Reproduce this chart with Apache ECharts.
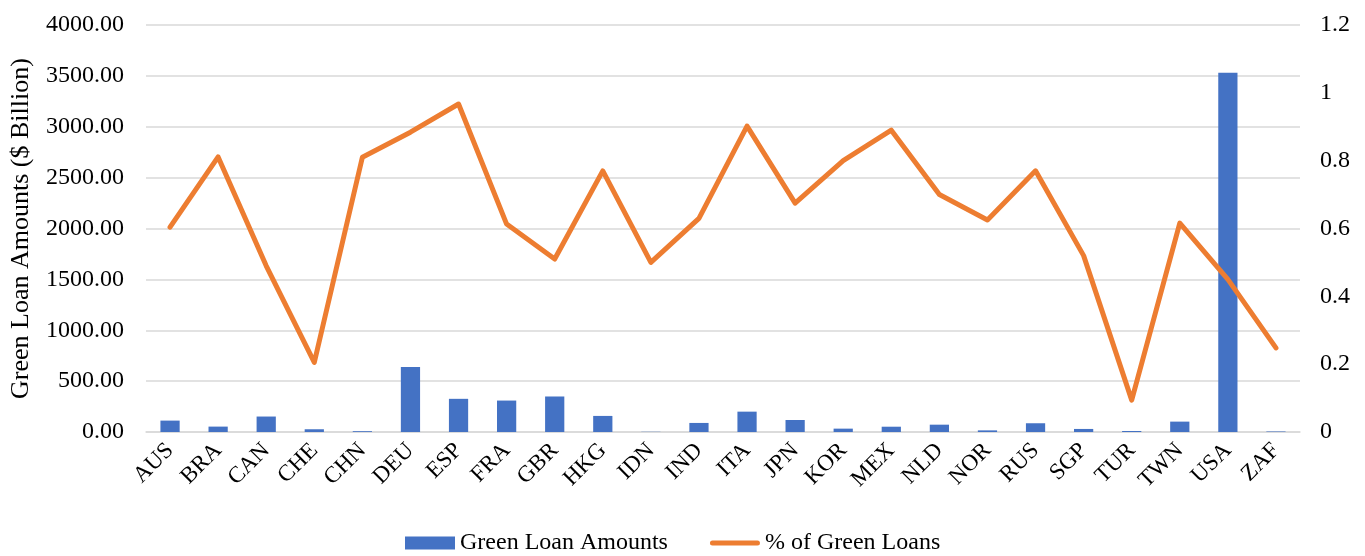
<!DOCTYPE html>
<html>
<head>
<meta charset="utf-8">
<script src="https://cdn.jsdelivr.net/npm/echarts@6/dist/echarts.min.js"></script>
<style>html,body{margin:0;padding:0;background:#fff}#c{width:1365px;height:556px}</style>
</head>
<body>
<div id="c"></div>
<script>
const categories = ['AUS','BRA','CAN','CHE','CHN','DEU','ESP','FRA','GBR','HKG','IDN','IND','ITA','JPN','KOR','MEX','NLD','NOR','RUS','SGP','TUR','TWN','USA','ZAF'];
const loanAmounts = [112, 53, 152, 27, 8, 639, 326, 309, 349, 158, 2, 89, 200, 118, 33, 52, 72, 16, 86, 30, 10, 102, 3530, 5];
const greenShare = [0.604, 0.811, 0.49, 0.205, 0.81, 0.884, 0.967, 0.613, 0.51, 0.77, 0.50, 0.63, 0.902, 0.675, 0.80, 0.89, 0.70, 0.625, 0.77, 0.52, 0.094, 0.616, 0.45, 0.248];
const leftTicks = {min: 0, max: 4000, interval: 500};
const rightTicks = {min: 0, max: 1.2, interval: 0.2};

const font = 'Liberation Serif, Times New Roman, serif';
const chart = echarts.init(document.getElementById('c'));
chart.setOption({
  animation: false,
  textStyle: {fontFamily: font, color: '#000'},
  grid: {left: 142, right: 65, top: 25, bottom: 124, containLabel: false},
  legend: {
    top: 526, left: 400, itemGap: 42, itemWidth: 50, itemHeight: 13,
    textStyle: {fontFamily: font, fontSize: 24, color: '#000'},
    data: [
      {name: 'Green Loan Amounts', icon: 'rect'},
      {name: '% of Green Loans', icon: 'path://M2.5,0 L47.5,0 A2.5,2.5 0 0 1 47.5,5 L2.5,5 A2.5,2.5 0 0 1 2.5,0 Z'}
    ]
  },
  xAxis: {
    type: 'category', data: categories,
    axisLine: {lineStyle: {color: '#d9d9d9', width: 1.5}},
    axisTick: {show: false},
    axisLabel: {rotate: 45, fontFamily: font, fontSize: 23, color: '#000', margin: 15, interval: 0}
  },
  yAxis: [
    {
      type: 'value', min: leftTicks.min, max: leftTicks.max, interval: leftTicks.interval,
      name: 'Green Loan Amounts ($ Billion)', nameLocation: 'middle', nameGap: 112,
      nameTextStyle: {fontFamily: font, fontSize: 26, color: '#000'},
      axisLine: {show: false}, axisTick: {show: false},
      axisLabel: {fontFamily: font, fontSize: 24, color: '#000', margin: 22, formatter: v => v.toFixed(2)},
      splitLine: {lineStyle: {color: '#d9d9d9', width: 1.5}}
    },
    {
      type: 'value', min: rightTicks.min, max: rightTicks.max, interval: rightTicks.interval,
      axisLine: {show: false}, axisTick: {show: false},
      axisLabel: {fontFamily: font, fontSize: 24, color: '#000', margin: 20, formatter: v => String(Math.round(v * 10) / 10)},
      splitLine: {show: false}
    }
  ],
  series: [
    {
      name: 'Green Loan Amounts', type: 'bar', data: loanAmounts, yAxisIndex: 0,
      barWidth: '40%', itemStyle: {color: '#4472C4'}
    },
    {
      name: '% of Green Loans', type: 'line', data: greenShare, yAxisIndex: 1,
      symbol: 'none', lineStyle: {color: '#ED7D31', width: 5, cap: 'round', join: 'round'}, itemStyle: {color: '#ED7D31'}
    }
  ]
});
</script>
</body>
</html>
